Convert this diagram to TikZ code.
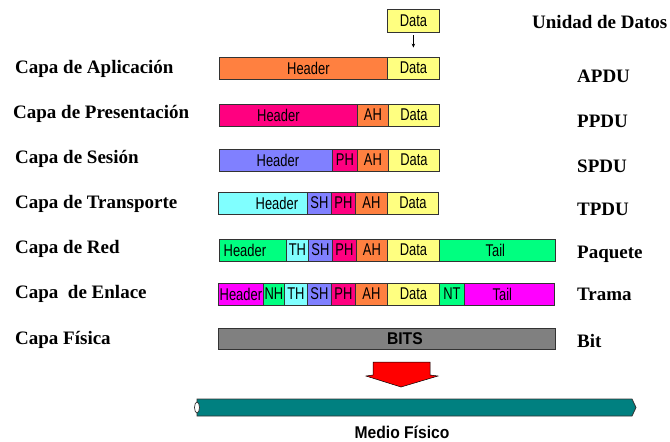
\documentclass[tikz,border=0pt]{standalone}
\usepackage{fontspec}
\setmainfont{Liberation Serif}
\newfontfamily\barfont[FakeStretch=0.76]{Liberation Sans}
\newfontfamily\bitsfont[FakeStretch=0.92]{Liberation Sans Bold}
\usetikzlibrary{positioning,calc,arrows.meta}
\definecolor{dataY}{HTML}{FFFF80}
\definecolor{appO}{HTML}{FF8040}
\definecolor{preP}{HTML}{FF0080}
\definecolor{sesB}{HTML}{8080FF}
\definecolor{traC}{HTML}{80FFFF}
\definecolor{redG}{HTML}{00FF80}
\definecolor{enlM}{HTML}{FF00FF}
\definecolor{bitG}{HTML}{808080}
\definecolor{medioT}{HTML}{008080}
\tikzset{
  cell/.style={draw=black!80, line width=0.8pt, minimum height=22pt, inner sep=0pt, anchor=west},
  celltxt/.style={font=\barfont\fontsize{17}{17}\selectfont, inner sep=0pt},
  capa/.style={anchor=base west, font=\bfseries\fontsize{19}{20}\selectfont, inner sep=0pt},
}

\begin{document}
\begin{tikzpicture}[x=1pt,y=-1pt]
    \useasboundingbox (0,0) rectangle (670,442);
    % data unit coming from above
    \node[cell, fill=dataY, minimum width=52pt, minimum height=23pt] (d0) at (387,20.5) {};
    \node[celltxt] (d0t) at (d0.center) {Data};
    % one row of cells per layer: x from / x to / colour / text / text shift
    \foreach \r/\y/\cells in {
        a/68/{219/387/appO/Header/5, 387/439/dataY/Data/0},
        p/115/{219/357/preP/Header/-10, 357/388/appO/AH/0, 388/439/dataY/Data/0},
        s/160/{219/332/sesB/Header/2, 332/357/preP/PH/0, 357/388/appO/AH/0, 388/439/dataY/Data/0},
        t/203/{218/307/traC/Header/14, 307/331/sesB/SH/0, 331/355/preP/PH/0, 355/387/appO/AH/0, 387/438/dataY/Data/0},
        n/250/{219/286/redG/Header/-8, 286/308/traC/TH/0, 308/332/sesB/SH/0, 332/356/preP/PH/0, 356/387/appO/AH/0, 387/439/dataY/Data/0, 439/555/redG/Tail/-2},
        e/294/{218/263/enlM/Header/0, 263/284/redG/NH/0, 284/307/traC/TH/0, 307/331/sesB/SH/0, 331/355/preP/PH/0, 355/387/appO/AH/0, 387/439/dataY/Data/0, 439/464/redG/NT/0, 464/554/enlM/Tail/-7}}{
        \foreach \xa/\xb/\c/\t/\dx [count=\i] in \cells {
            \node[cell, fill=\c, minimum width={(\xb-\xa)*1pt}] (\r\i) at (\xa,\y) {};
            \node[celltxt] (\r\i t) at ($(\r\i.center)+(\dx,0)$) {\t};
        }
    }
    \draw[-{Stealth[length=4pt,width=3.5pt]}, line width=0.7pt, shorten <=3pt, shorten >=9pt] (d0.south) -- (a2.north);
    % bits
    \node[cell, fill=bitG, minimum width=337pt, minimum height=21pt] (f1) at (218,339) {};
    \node[font=\bitsfont\fontsize{17}{17}\selectfont, inner sep=0pt] (f1t) at ($(f1.center)+(18,0)$) {BITS};
    % layer names
    \foreach \t/\xb/\yb [count=\i] in {Capa de Aplicación/15/73, Capa de Presentación/13/118,
        Capa de Sesión/15/163, Capa de Transporte/15/208, Capa de Red/15/253,
        Capa~~de Enlace/15/298, Capa Física/15/344}
        \node[capa] (capa\i) at (\xb,\yb) {\t};
    % data units
    \node[capa] (unidad) at (532,28) {Unidad de Datos};
    \foreach \t/\yb [count=\i] in {APDU/82, PPDU/127, SPDU/172, TPDU/215, Paquete/258, Trama/300, Bit/347}
        \node[capa] (pdu\i) at (577,\yb) {\t};
    % arrow down to the medium
    \draw[fill=red, draw=black, line width=0.5pt] (373,362) -- (430,362) -- (430,375) -- (438,376)
        -- (401,387) -- (366,376) -- (373,375) -- cycle;
    \draw[draw=black!80, fill=medioT, line width=0.8pt] (197,399) -- (632,399) -- (636,407.5) -- (632,416) -- (197,416) -- cycle;
    \draw[draw=black!80, fill=white, line width=0.7pt] (197,407.5) ellipse [x radius=2.5, y radius=5.5];
    \node[font=\bitsfont\fontsize{17}{17}\selectfont, anchor=base, inner sep=0pt] (medio) at (402,438) {Medio Físico};
\end{tikzpicture}
\end{document}
